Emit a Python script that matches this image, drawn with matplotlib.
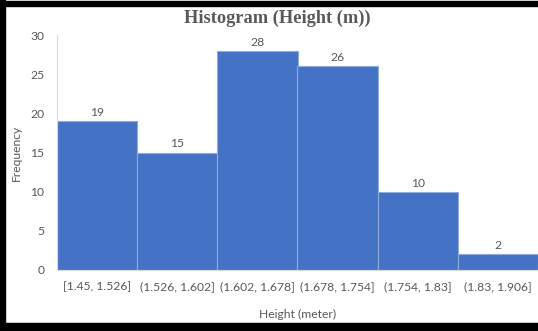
import matplotlib.pyplot as plt
from matplotlib.patches import Rectangle

# histogram bins and counts
bins = ["[1.45, 1.526]", "(1.526, 1.602]", "(1.602, 1.678]",
        "(1.678, 1.754]", "(1.754, 1.83]", "(1.83, 1.906]"]
counts = [19, 15, 28, 26, 10, 2]
yticks = [0, 5, 10, 15, 20, 25, 30]

W, H = 538, 331
fig = plt.figure(figsize=(W / 100, H / 100), dpi=100)
ax = fig.add_axes([57 / W, 61 / H, (W - 57) / W, 235 / H])

gray = "#595959"
font = "Lato"
fs = 8.7

pos = range(len(counts))
bars = ax.bar(pos, counts, width=1.0, color="#4472C4",
              edgecolor="#8FAADC", linewidth=0.8)
for x, c in zip(pos, counts):
    ax.text(x, c + 0.4, str(c), ha="center", va="bottom",
            fontsize=fs, color=gray, family=font)

ax.set_xlim(-0.5, len(counts) - 0.5)
ax.set_ylim(0, 30)
ax.set_yticks(yticks)
ax.set_xticks(list(pos))
ax.set_xticklabels(bins)
for lbl in ax.get_xticklabels() + ax.get_yticklabels():
    lbl.set_family(font)
    lbl.set_fontsize(fs)
    lbl.set_color(gray)
ax.tick_params(length=0)
ax.tick_params(axis="x", pad=8)
ax.tick_params(axis="y", pad=9)

for side in ["top", "right"]:
    ax.spines[side].set_visible(False)
ax.spines["left"].set_color("#D9D9D9")
ax.spines["bottom"].set_color("#D9D9D9")
ax.spines["left"].set_linewidth(0.8)
ax.spines["bottom"].set_linewidth(0.8)

ax.set_xlabel("Height (meter)", fontsize=fs, color=gray, family=font)
ax.set_ylabel("Frequency", fontsize=fs, color=gray, family=font)
ax.xaxis.set_label_coords(0.5, -39 / 235)
ax.yaxis.set_label_coords(-35 / 481, 0.5)

fig.text(277 / W, 1 - 18 / H, "Histogram (Height (m))", ha="center", va="center",
         fontsize=13.2, fontweight="bold", color=gray, family="Liberation Serif")

# black frame on left, top and bottom
fig.patches.append(Rectangle((0, 0), 5 / W, 1, transform=fig.transFigure,
                             color="black", zorder=10))
fig.patches.append(Rectangle((0, 1 - 6 / H), 1, 5 / H, transform=fig.transFigure,
                             color="black", zorder=10))
fig.patches.append(Rectangle((0, 0), 1, 8 / H, transform=fig.transFigure,
                             color="black", zorder=10))

fig.savefig("out.png", dpi=100)
